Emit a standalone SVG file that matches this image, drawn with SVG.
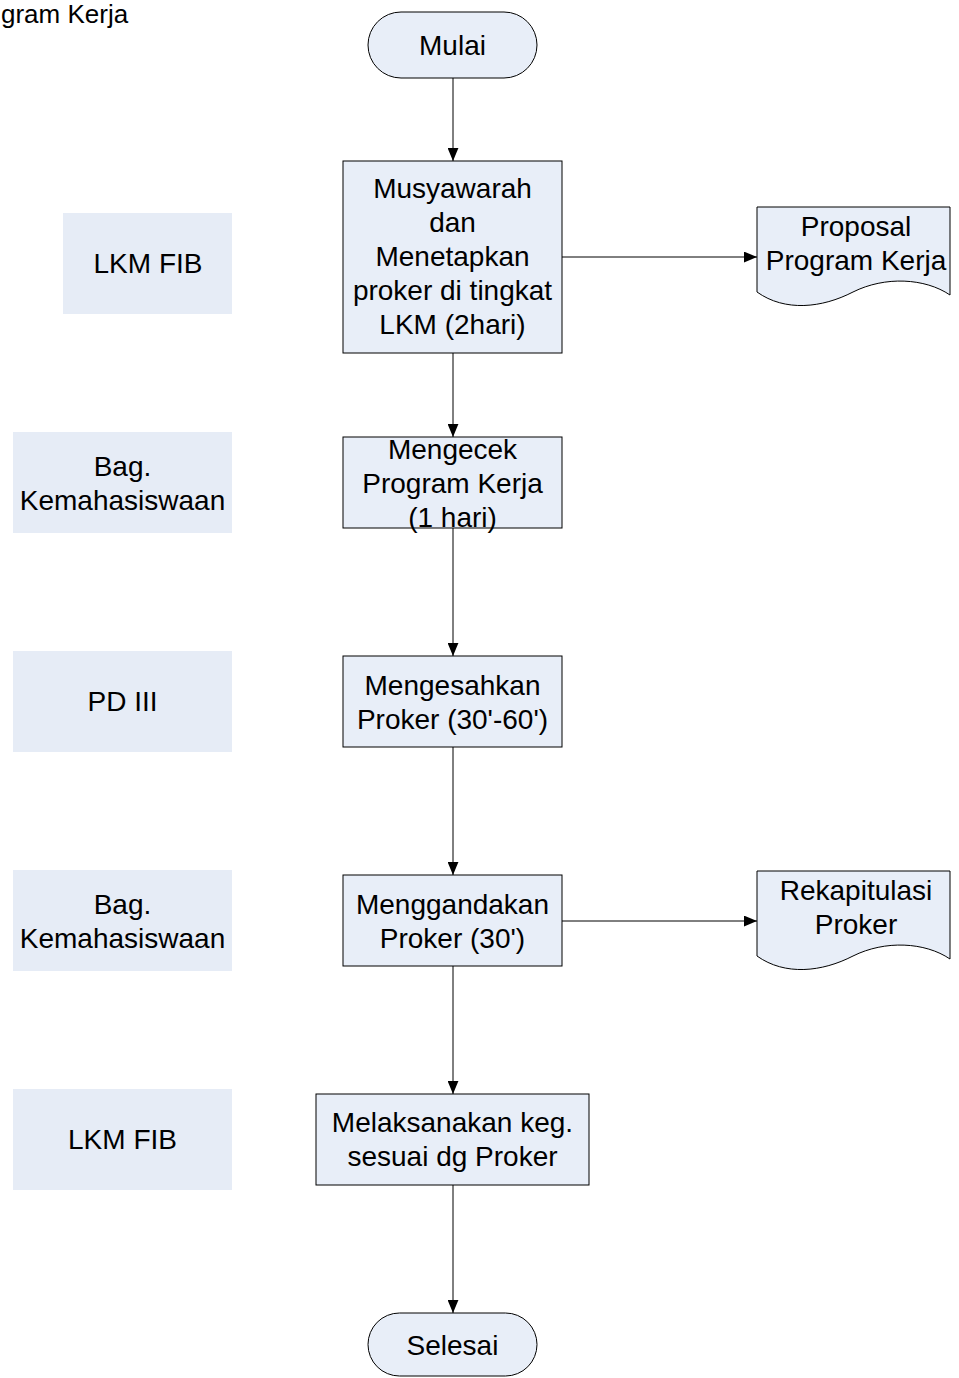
<svg xmlns="http://www.w3.org/2000/svg" width="959" height="1378" viewBox="0 0 959 1378">
<defs>
<style>
.box{fill:#e8eef8;stroke:#000;stroke-width:1}
.lane{fill:#e6ecf6;stroke:none}
.t{font-family:"Liberation Sans",Arial,sans-serif;font-size:28px;fill:#000;text-anchor:middle}
.c{stroke:#000;stroke-width:1;fill:none;marker-end:url(#ah)}
</style>
<marker id="ah" viewBox="0 0 12 10" refX="12" refY="5" markerWidth="13" markerHeight="11" markerUnits="userSpaceOnUse" orient="auto">
<path d="M0,0 L12,5 L0,10 Z" fill="#000"/>
</marker>
</defs>
<rect width="959" height="1378" fill="#fff"/>
<text id="title" x="1" y="23" class="t" style="text-anchor:start;font-size:26px">gram Kerja</text>

<g id="lane1"><rect class="lane" x="63" y="213" width="169" height="101"/><text class="t" x="148" y="273">LKM FIB</text></g>
<g id="lane2"><rect class="lane" x="13" y="432" width="219" height="101"/><text class="t" x="122.5" y="476">Bag.</text><text class="t" x="122.5" y="510">Kemahasiswaan</text></g>
<g id="lane3"><rect class="lane" x="13" y="651" width="219" height="101"/><text class="t" x="122.5" y="711">PD III</text></g>
<g id="lane4"><rect class="lane" x="13" y="870" width="219" height="101"/><text class="t" x="122.5" y="914">Bag.</text><text class="t" x="122.5" y="948">Kemahasiswaan</text></g>
<g id="lane5"><rect class="lane" x="13" y="1089" width="219" height="101"/><text class="t" x="122.5" y="1149">LKM FIB</text></g>

<g id="connectors">
<path class="c" d="M453,78 V161"/>
<path class="c" d="M562,257 H757"/>
<path class="c" d="M453,353 V437"/>
<path class="c" d="M453,528 V656"/>
<path class="c" d="M453,747 V875"/>
<path class="c" d="M562,921 H757"/>
<path class="c" d="M453,966 V1094"/>
<path class="c" d="M453,1185 V1313"/>
</g>

<g id="mulai"><rect class="box" x="368" y="12" width="169" height="66" rx="33" ry="33"/><text class="t" x="452.5" y="55">Mulai</text></g>

<g id="musyawarah"><rect class="box" x="343" y="161" width="219" height="192"/>
<text class="t" x="452.5" y="198">Musyawarah</text>
<text class="t" x="452.5" y="232">dan</text>
<text class="t" x="452.5" y="266">Menetapkan</text>
<text class="t" x="452.5" y="300">proker di tingkat</text>
<text class="t" x="452.5" y="334">LKM (2hari)</text></g>

<g id="proposal"><path class="box" d="M757,207 H950 V295 C925,278 885,276 853,292 C822,308 785,312 757,292 Z"/>
<text class="t" x="856" y="236">Proposal</text>
<text class="t" x="856" y="270">Program Kerja</text></g>

<g id="mengecek"><rect class="box" x="343" y="437" width="219" height="91"/>
<text class="t" x="452.5" y="459">Mengecek</text>
<text class="t" x="452.5" y="493">Program Kerja</text>
<text class="t" x="452.5" y="527">(1 hari)</text></g>

<g id="mengesahkan"><rect class="box" x="343" y="656" width="219" height="91"/>
<text class="t" x="452.5" y="695">Mengesahkan</text>
<text class="t" x="452.5" y="729">Proker (30'-60')</text></g>

<g id="menggandakan"><rect class="box" x="343" y="875" width="219" height="91"/>
<text class="t" x="452.5" y="914">Menggandakan</text>
<text class="t" x="452.5" y="948">Proker (30')</text></g>

<g id="rekapitulasi"><path class="box" d="M757,871 H950 V959 C925,942 885,940 853,956 C822,972 785,976 757,956 Z"/>
<text class="t" x="856" y="900">Rekapitulasi</text>
<text class="t" x="856" y="934">Proker</text></g>

<g id="melaksanakan"><rect class="box" x="316" y="1094" width="273" height="91"/>
<text class="t" x="452.5" y="1132">Melaksanakan keg.</text>
<text class="t" x="452.5" y="1166">sesuai dg Proker</text></g>

<g id="selesai"><rect class="box" x="368" y="1313" width="169" height="63" rx="31.5" ry="31.5"/><text class="t" x="452.5" y="1355">Selesai</text></g>
</svg>
